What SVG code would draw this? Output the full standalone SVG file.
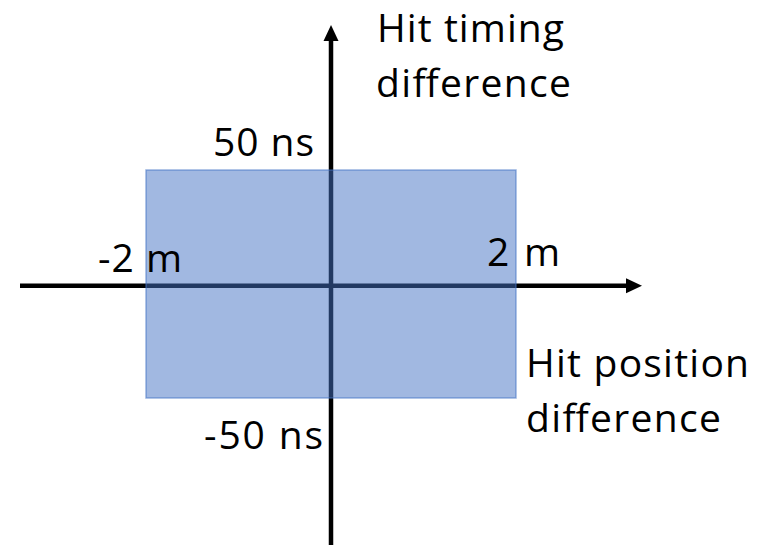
<svg xmlns="http://www.w3.org/2000/svg" width="762" height="545" viewBox="0 0 762 545">
  <style>
    .axis { stroke: #000000; stroke-width: 4.5; fill: none; }
    .lbl { font-family: "Open Sans", "Liberation Sans", sans-serif; font-size: 39px; fill: #000000; }
    .region { fill: #4472C4; fill-opacity: 0.5; stroke: #4472C4; stroke-opacity: 0.55; stroke-width: 1.5; }
  </style>
  <defs>
    <marker id="arrow" markerUnits="userSpaceOnUse" viewBox="0 0 16 16" markerWidth="16" markerHeight="16" refX="4" refY="8" orient="auto">
      <path d="M0,0.5 L16,8 L0,15.5 Z" fill="#000000"/>
    </marker>
  </defs>
  <rect width="762" height="545" fill="#FFFFFF"/>
  <g id="connectors">
    <line class="axis" x1="20" y1="285.7" x2="630" y2="285.7" marker-end="url(#arrow)"/>
    <line class="axis" x1="331" y1="545" x2="331" y2="37" marker-end="url(#arrow)"/>
  </g>
  <g id="region">
    <rect class="region" x="146" y="170" width="370" height="228"/>
  </g>
  <g id="y-axis-label">
    <text class="lbl" x="377" y="42" textLength="187">Hit timing</text>
    <text class="lbl" x="376" y="97" textLength="195">difference</text>
  </g>
  <g id="x-axis-label">
    <text class="lbl" x="526" y="377" textLength="223">Hit position</text>
    <text class="lbl" x="526" y="432" textLength="195">difference</text>
  </g>
  <g id="tick-top"><text class="lbl" x="213" y="156" textLength="101">50 ns</text></g>
  <g id="tick-bottom"><text class="lbl" x="204" y="449" textLength="119">-50 ns</text></g>
  <g id="tick-left"><text class="lbl" x="98" y="272" textLength="84">-2 m</text></g>
  <g id="tick-right"><text class="lbl" x="487" y="266" textLength="73">2 m</text></g>
</svg>
